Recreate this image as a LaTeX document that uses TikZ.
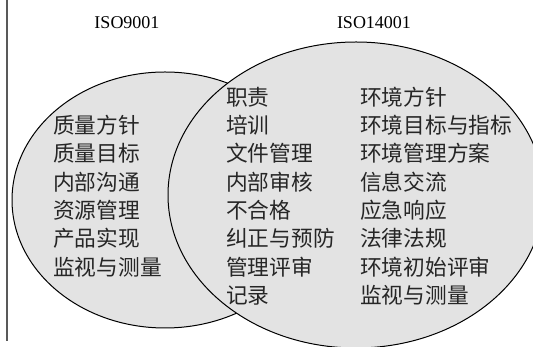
\documentclass[tikz,border=0pt]{standalone}
\usepackage{fontspec}
\setmainfont{Liberation Serif}
\newfontfamily\cjk{Noto Sans CJK SC}
\usetikzlibrary{calc}

\tikzset{
	clause/.style={anchor=west, inner sep=0pt, text=black!85,
		font=\cjk\fontsize{21.7}{21.7}\selectfont},
	title/.style={inner sep=0pt, font=\fontsize{18}{18}\selectfont},
	set/.style={draw=black, line width=1pt, fill=gray!22},
}

\newcommand{\clause}[4] % name, x in px, row, text
{
	\node[clause] (#1) at (#2, {250-28.3*#3}) {#4};
}

\begin{document}
\begin{tikzpicture}[x=1pt, y=1pt]
	% 533px x 347px, 1px = 1pt
	\useasboundingbox (0, 0) rectangle (533, 347);
	\draw[line width=1.2pt, black!65] (7, 347) -- (7, 6);

	% the two sets
	\draw[set] (165, 147) ellipse [x radius=153, y radius=128];
	\draw[set] (356, 152) ellipse [x radius=188, y radius=153];

	\node[title] (iso9001) at (127, 324) {ISO9001};
	\node[title] (iso14001) at (374, 324) {ISO14001};

	% ISO9001 only
	\clause{q1}{53}{1}{质量方针}
	\clause{q2}{53}{2}{质量目标}
	\clause{q3}{53}{3}{内部沟通}
	\clause{q4}{53}{4}{资源管理}
	\clause{q5}{53}{5}{产品实现}
	\clause{q6}{53}{6}{监视与测量}

	% common
	\clause{c1}{226}{0}{职责}
	\clause{c2}{226}{1}{培训}
	\clause{c3}{226}{2}{文件管理}
	\clause{c4}{226}{3}{内部审核}
	\clause{c5}{226}{4}{不合格}
	\clause{c6}{226}{5}{纠正与预防}
	\clause{c7}{226}{6}{管理评审}
	\clause{c8}{226}{7}{记录}

	% ISO14001 only
	\clause{e1}{360}{0}{环境方针}
	\clause{e2}{360}{1}{环境目标与指标}
	\clause{e3}{360}{2}{环境管理方案}
	\clause{e4}{360}{3}{信息交流}
	\clause{e5}{360}{4}{应急响应}
	\clause{e6}{360}{5}{法律法规}
	\clause{e7}{360}{6}{环境初始评审}
	\clause{e8}{360}{7}{监视与测量}
\end{tikzpicture}
\end{document}
